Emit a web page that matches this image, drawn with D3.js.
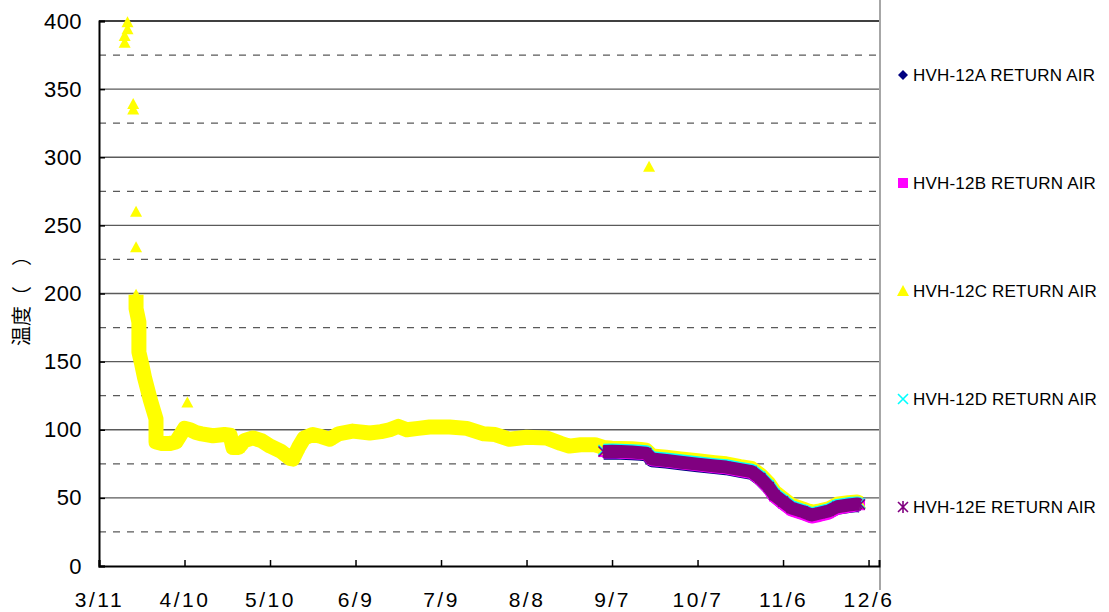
<!DOCTYPE html>
<html>
<head>
<meta charset="utf-8">
<script src="https://cdn.jsdelivr.net/npm/d3@7"></script>
<style>
  body { margin: 0; background: #fff; }
  svg { display: block; }
  text { font-family: "Liberation Sans", Arial, sans-serif; fill: #000; }
</style>
</head>
<body>
<div id="chart"></div>
<script>
// tick labels (one every 30 days)
const xTickLabels = ['3/11', '4/10', '5/10', '6/9', '7/9', '8/8', '9/7', '10/7', '11/6', '12/6'];
const yTicks = [0, 50, 100, 150, 200, 250, 300, 350, 400];
const yDashed = [25, 75, 125, 175, 225, 275, 325, 375];

const seriesNames = ['HVH-12A RETURN AIR', 'HVH-12B RETURN AIR', 'HVH-12C RETURN AIR', 'HVH-12D RETURN AIR', 'HVH-12E RETURN AIR'];

// HVH-12C, isolated readings
const cSpikeDates = ['3/20', '3/20', '3/21', '3/21', '3/23', '3/23', '3/24', '3/24', '4/11', '9/20'];
const cSpikeValues = [384, 389, 394, 399, 339, 335, 260, 234, 120, 293];

// HVH-12C, continuous readings
const cDates = ['3/24', '3/24', '3/25', '3/25', '3/25', '3/26', '3/27', '3/28', '3/29', '3/30', '3/31', '3/31', '3/31',
  '4/2', '4/5', '4/7', '4/10', '4/12', '4/14', '4/16', '4/20', '4/24', '4/26', '4/27', '4/29', '5/1', '5/4', '5/7',
  '5/10', '5/14', '5/17', '5/18', '5/20', '5/22', '5/25', '5/28', '5/31', '6/3', '6/8', '6/14', '6/18', '6/21',
  '6/24', '6/27', '7/1', '7/5', '7/12', '7/18', '7/21', '7/24', '7/28', '8/2', '8/8', '8/15', '8/20', '8/23',
  '8/27', '9/1',
  '9/4', '9/7', '9/10', '9/14', '9/17', '9/19', '9/21', '9/26', '10/1', '10/7', '10/13', '10/17', '10/22', '10/26',
  '10/29', '11/1', '11/3', '11/6', '11/9', '11/13', '11/16', '11/19', '11/22', '11/25', '11/29', '12/2', '12/3'];
const cValues = [199, 189, 179, 168, 157, 148, 138, 130, 122, 115, 108, 99, 91,
  90, 90, 91, 101, 100, 98, 97, 95.6, 96.5, 96, 87, 87, 92, 94, 92,
  88, 84, 79, 78.5, 87, 94, 96.5, 95, 93, 97, 99, 97.6, 98.6, 100,
  102.5, 100, 101, 102, 102, 101, 99, 97, 96.5, 93, 94.5, 94, 90, 88,
  89, 89,
  87, 86.5, 86.3, 86, 85.6, 85, 80.8, 79.8, 78.6, 77.2, 75.8, 75, 73, 71.6,
  67, 60.5, 54.5, 49.5, 44.7, 41.8, 39.4, 40.5, 42, 45.3, 46.5, 47, 46];

// HVH-12A, B, D, E share the same reading dates
const lateDates = ['9/4', '9/7', '9/10', '9/14', '9/17', '9/19', '9/21', '9/26', '10/1', '10/7', '10/13', '10/17', '10/22',
  '10/26', '10/29', '11/1', '11/3', '11/6', '11/9', '11/13', '11/16', '11/19', '11/22', '11/25', '11/29', '12/2', '12/3'];
const aValues = [82.8, 83, 82.8, 82.4, 82, 81.6, 77.3, 76.3, 75, 73.6, 72.2, 71.4, 69.5,
  68, 63.4, 57, 51, 46, 41.4, 38.8, 36.3, 37.8, 39.3, 42.4, 43.6, 44.3, 44];
const bValues = [83.6, 83.8, 83.5, 83.1, 82.7, 82.3, 78, 77, 75.7, 74.2, 72.8, 72, 70,
  68.5, 63.6, 57, 50.8, 45.8, 41, 38.4, 35.9, 37.2, 38.8, 42.3, 43.8, 44.9, 44.6];
const dValues = [85, 85.2, 85, 84.6, 84.2, 83.8, 79.5, 78.5, 77.2, 75.8, 74.4, 73.6, 71.7,
  70.3, 65.6, 59.2, 53.2, 48.3, 43.5, 40.8, 38.3, 39.8, 41.3, 44.5, 45.8, 46.3, 46];
const eValues = [84, 84.2, 84, 83.6, 83.2, 82.8, 78.5, 77.5, 76.2, 74.8, 73.4, 72.6, 70.7,
  69.2, 64.5, 58, 52, 47.2, 42.5, 39.9, 37.4, 38.9, 40.4, 43.5, 44.8, 45.5, 45.2];

const W = 1109, H = 612;
const plot = {left: 99, right: 879, top: 21, bottom: 566};

const parseDate = s => d3.timeParse('%m/%d/%Y')(s + '/2011');
const zip = (dates, vals) => dates.map((d, i) => ({date: parseDate(d), v: vals[i]}));

const markers = {
  diamond: 'M0,-5L5,0L0,5L-5,0Z',
  square: 'M-5,-5H5V5H-5Z',
  triangle: 'M0,-6L6,5L-6,5Z',
  cross: 'M-5,-5L5,5M5,-5L-5,5',
  star: 'M-5,-5L5,5M5,-5L-5,5M0,-6V6'
};
const isLineMarker = m => m === 'cross' || m === 'star';

const series = [
  {name: seriesNames[0], color: '#000080', marker: 'diamond', band: 13, data: zip(lateDates, aValues)},
  {name: seriesNames[1], color: '#ff00ff', marker: 'square', band: 13, data: zip(lateDates, bValues)},
  {name: seriesNames[2], color: '#ffff00', marker: 'triangle', band: 15, data: zip(cDates, cValues), extra: zip(cSpikeDates, cSpikeValues)},
  {name: seriesNames[3], color: '#00ffff', marker: 'cross', band: 13, data: zip(lateDates, dValues)},
  {name: seriesNames[4], color: '#800080', marker: 'star', band: 13, data: zip(lateDates, eValues)}
];

const svg = d3.select('#chart').append('svg').attr('width', W).attr('height', H);

const x0 = parseDate(xTickLabels[0]);
const x = d3.scaleTime()
  .domain([x0, d3.timeHour.offset(x0, 273.7 * 24)])
  .range([plot.left, plot.right]);
const y = d3.scaleLinear().domain([0, 400]).range([plot.bottom, plot.top]);

// gridlines
svg.append('g').selectAll('line')
  .data(yTicks.filter(t => t > 0 && t < 400))
  .join('line')
  .attr('x1', plot.left).attr('x2', plot.right)
  .attr('y1', d => y(d)).attr('y2', d => y(d))
  .attr('stroke', '#5a5a5a').attr('stroke-width', 1.3);
svg.append('g').selectAll('line')
  .data(yDashed)
  .join('line')
  .attr('x1', plot.left).attr('x2', plot.right)
  .attr('y1', d => y(d)).attr('y2', d => y(d))
  .attr('stroke', '#5a5a5a').attr('stroke-width', 1.3)
  .attr('stroke-dasharray', '7,7');
svg.append('line')
  .attr('x1', plot.left).attr('x2', plot.right)
  .attr('y1', y(400)).attr('y2', y(400))
  .attr('stroke', '#000').attr('stroke-width', 1.6);

// legend frame
svg.append('line')
  .attr('x1', 880).attr('x2', 880).attr('y1', 0).attr('y2', 590)
  .attr('stroke', '#777').attr('stroke-width', 1.3);

// series: dense readings drawn as a thick band of markers
const band = d3.line().x(d => x(d.date)).y(d => y(d.v));
const g = svg.append('g');
series.forEach(s => {
  g.append('path')
    .attr('d', band(s.data))
    .attr('fill', 'none')
    .attr('stroke', s.color)
    .attr('stroke-width', s.band)
    .attr('stroke-linejoin', 'round')
    .attr('stroke-linecap', 'butt');
  const pts = s.data.concat(s.extra || []);
  g.append('g').selectAll('path')
    .data(pts)
    .join('path')
    .attr('transform', d => `translate(${x(d.date)},${y(d.v)})`)
    .attr('d', markers[s.marker])
    .attr('fill', isLineMarker(s.marker) ? 'none' : s.color)
    .attr('stroke', isLineMarker(s.marker) ? s.color : 'none')
    .attr('stroke-width', 1.6);
});

// axes
const yAxis = svg.append('g')
  .attr('transform', `translate(${plot.left},0)`)
  .call(d3.axisLeft(y).tickValues(yTicks).tickSize(-6).tickPadding(17).tickFormat(d3.format('d')));
yAxis.select('.domain').attr('stroke', '#000').attr('stroke-width', 2);
yAxis.selectAll('.tick line').attr('stroke', '#000').attr('stroke-width', 1.5);
yAxis.selectAll('text')
  .style('font-size', '22px')
  .style('letter-spacing', '0.4px')
  .attr('font-family', null);

const xAxis = svg.append('g')
  .attr('transform', `translate(0,${plot.bottom})`)
  .call(d3.axisBottom(x).tickValues(xTickLabels.map(parseDate)).tickSize(-6).tickPadding(0)
    .tickFormat((d, i) => xTickLabels[i]));
xAxis.select('.domain').attr('stroke', '#000').attr('stroke-width', 2);
xAxis.selectAll('.tick line').attr('stroke', '#000').attr('stroke-width', 1.5);
xAxis.selectAll('text')
  .attr('y', 41).attr('dy', 0)
  .style('font-size', '21px')
  .style('letter-spacing', '2.5px')
  .attr('font-family', null);

// y title
svg.append('text')
  .attr('transform', 'translate(29,296)rotate(-90)')
  .attr('text-anchor', 'middle')
  .style('font-family', '"Noto Sans CJK JP", sans-serif')
  .style('font-size', '20px')
  .text('温度（　）');

// legend
const legend = svg.append('g').selectAll('g')
  .data(series)
  .join('g')
  .attr('transform', (d, i) => `translate(903,${75 + i * 108})`);
legend.append('path')
  .attr('d', d => markers[d.marker])
  .attr('fill', d => isLineMarker(d.marker) ? 'none' : d.color)
  .attr('stroke', d => isLineMarker(d.marker) ? d.color : 'none')
  .attr('stroke-width', 1.6);
legend.append('text')
  .attr('x', 10)
  .attr('dy', '0.36em')
  .style('font-size', '17px')
  .style('letter-spacing', '0.2px')
  .text(d => d.name);
</script>
</body>
</html>
